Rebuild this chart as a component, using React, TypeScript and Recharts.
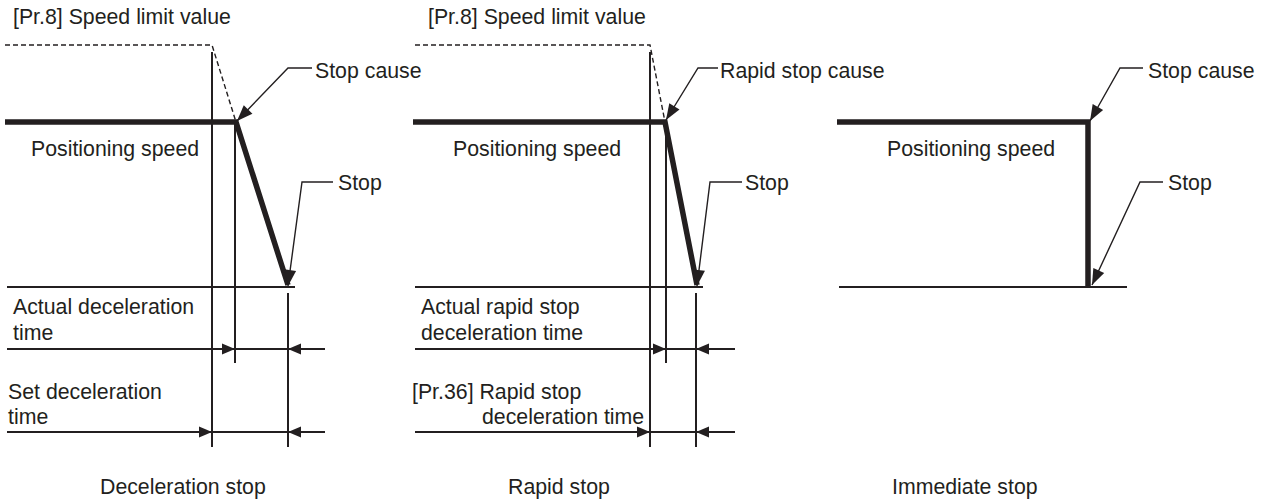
import React from "react";
import { ComposedChart, XAxis, YAxis, Line, Scatter, ReferenceLine } from "recharts";

type Pt = { x: number; y: number };
type Seg = { x1: number; y1: number; x2: number; y2: number };
type Label = { x: number; y: number; text: string };

// diagram space: x = time direction, y = distance from the top (speed goes up)
const decelLimit: Pt[] = [{ x: 5, y: 45 }, { x: 212, y: 45 }, { x: 236, y: 122 }];
const decelSpeed: Pt[] = [{ x: 5, y: 122 }, { x: 236, y: 122 }, { x: 288, y: 285 }];
const rapidLimit: Pt[] = [{ x: 415, y: 45 }, { x: 650, y: 45 }, { x: 665, y: 122 }];
const rapidSpeed: Pt[] = [{ x: 413, y: 122 }, { x: 665, y: 122 }, { x: 697, y: 285 }];
const immediateSpeed: Pt[] = [{ x: 837, y: 122 }, { x: 1088, y: 122 }, { x: 1088, y: 287 }];

const zeroLines: Seg[] = [
  { x1: 7, y1: 287, x2: 295, y2: 287 },
  { x1: 415, y1: 287, x2: 703, y2: 287 },
  { x1: 839, y1: 287, x2: 1127, y2: 287 },
];

const markers: Seg[] = [
  { x1: 212, y1: 52, x2: 212, y2: 447 },
  { x1: 235, y1: 122, x2: 235, y2: 363 },
  { x1: 288, y1: 293, x2: 288, y2: 447 },
  { x1: 650, y1: 52, x2: 650, y2: 447 },
  { x1: 666, y1: 122, x2: 666, y2: 363 },
  { x1: 696, y1: 293, x2: 696, y2: 447 },
];

const dimLines: Seg[] = [
  { x1: 7, y1: 349, x2: 325, y2: 349 },
  { x1: 7, y1: 432, x2: 325, y2: 432 },
  { x1: 415, y1: 349, x2: 735, y2: 349 },
  { x1: 415, y1: 432, x2: 735, y2: 432 },
];

const dimTips = [
  { x: 235, y: 349, angle: 0 },
  { x: 288, y: 349, angle: 180 },
  { x: 212, y: 432, angle: 0 },
  { x: 288, y: 432, angle: 180 },
  { x: 666, y: 349, angle: 0 },
  { x: 696, y: 349, angle: 180 },
  { x: 650, y: 432, angle: 0 },
  { x: 696, y: 432, angle: 180 },
];

// callout leaders, last point is the arrow tip
const leaders: Pt[][] = [
  [{ x: 312, y: 68 }, { x: 288, y: 68 }, { x: 237, y: 121 }],
  [{ x: 333, y: 182 }, { x: 302, y: 182 }, { x: 288, y: 286 }],
  [{ x: 718, y: 68 }, { x: 698, y: 68 }, { x: 666, y: 120 }],
  [{ x: 742, y: 182 }, { x: 710, y: 182 }, { x: 697, y: 286 }],
  [{ x: 1143, y: 68 }, { x: 1120, y: 68 }, { x: 1090, y: 121 }],
  [{ x: 1163, y: 182 }, { x: 1140, y: 182 }, { x: 1092, y: 285 }],
];

const labels: Label[] = [
  { x: 13, y: 24, text: "[Pr.8] Speed limit value" },
  { x: 315, y: 78, text: "Stop cause" },
  { x: 31, y: 156, text: "Positioning speed" },
  { x: 338, y: 190, text: "Stop" },
  { x: 13, y: 314, text: "Actual deceleration" },
  { x: 13, y: 340, text: "time" },
  { x: 8, y: 399, text: "Set deceleration" },
  { x: 8, y: 424, text: "time" },
  { x: 100, y: 494, text: "Deceleration stop" },
  { x: 428, y: 24, text: "[Pr.8] Speed limit value" },
  { x: 720, y: 78, text: "Rapid stop cause" },
  { x: 453, y: 156, text: "Positioning speed" },
  { x: 745, y: 190, text: "Stop" },
  { x: 421, y: 314, text: "Actual rapid stop" },
  { x: 421, y: 340, text: "deceleration time" },
  { x: 412, y: 399, text: "[Pr.36] Rapid stop" },
  { x: 482, y: 424, text: "deceleration time" },
  { x: 508, y: 494, text: "Rapid stop" },
  { x: 1148, y: 78, text: "Stop cause" },
  { x: 887, y: 156, text: "Positioning speed" },
  { x: 1168, y: 190, text: "Stop" },
  { x: 892, y: 494, text: "Immediate stop" },
];

const INK = "#231f20";
const FONT = "'Liberation Sans', Arial, sans-serif";

const leaderTips = leaders.map((pts) => {
  const a = pts[pts.length - 2];
  const b = pts[pts.length - 1];
  return { x: b.x, y: b.y, angle: (Math.atan2(b.y - a.y, b.x - a.x) * 180) / Math.PI };
});

const arrowShape = (len: number, half: number) => (props: any) => {
  const { cx, cy, payload } = props;
  if (cx == null || cy == null) return <g />;
  return (
    <polygon
      points={`${cx},${cy} ${cx - len},${cy - half} ${cx - len},${cy + half}`}
      transform={`rotate(${payload.angle} ${cx} ${cy})`}
      fill={INK}
    />
  );
};

const textShape = (props: any) => {
  const { cx, cy, payload } = props;
  return (
    <text x={cx} y={cy} fill={INK} fontSize={21.3} fontFamily={FONT}>
      {payload.text}
    </text>
  );
};

export default function App() {
  const seg = (s: Seg, key: string, width: number) => (
    <ReferenceLine
      key={key}
      segment={[{ x: s.x1, y: s.y1 }, { x: s.x2, y: s.y2 }]}
      stroke={INK}
      strokeWidth={width}
      ifOverflow="visible"
    />
  );
  return (
    <div style={{ position: "absolute", left: 0, top: 0, width: 1264, height: 504, background: "#fff" }}>
      <ComposedChart width={1264} height={504} margin={{ top: 0, right: 0, bottom: 0, left: 0 }}>
        <XAxis type="number" dataKey="x" domain={[0, 1264]} allowDataOverflow hide />
        <YAxis type="number" dataKey="y" domain={[0, 504]} allowDataOverflow reversed hide />
        {zeroLines.map((s, i) => seg(s, `z${i}`, 2))}
        {markers.map((s, i) => seg(s, `m${i}`, 2))}
        {dimLines.map((s, i) => seg(s, `d${i}`, 2))}
        {[decelLimit, rapidLimit].map((d, i) => (
          <Line
            key={`lim${i}`}
            data={d}
            dataKey="y"
            type="linear"
            stroke={INK}
            strokeWidth={1.4}
            strokeDasharray="5 3"
            dot={false}
            activeDot={false}
            isAnimationActive={false}
          />
        ))}
        {[decelSpeed, rapidSpeed, immediateSpeed].map((d, i) => (
          <Line
            key={`spd${i}`}
            data={d}
            dataKey="y"
            type="linear"
            stroke={INK}
            strokeWidth={5.5}
            strokeLinejoin="miter"
            dot={false}
            activeDot={false}
            isAnimationActive={false}
          />
        ))}
        {leaders.map((d, i) => (
          <Line
            key={`ld${i}`}
            data={d}
            dataKey="y"
            type="linear"
            stroke={INK}
            strokeWidth={1.4}
            dot={false}
            activeDot={false}
            isAnimationActive={false}
          />
        ))}
        <Scatter data={dimTips} shape={arrowShape(13, 5.5)} isAnimationActive={false} />
        <Scatter data={leaderTips} shape={arrowShape(16, 6)} isAnimationActive={false} />
        <Scatter data={labels} shape={textShape} isAnimationActive={false} />
      </ComposedChart>
    </div>
  );
}
